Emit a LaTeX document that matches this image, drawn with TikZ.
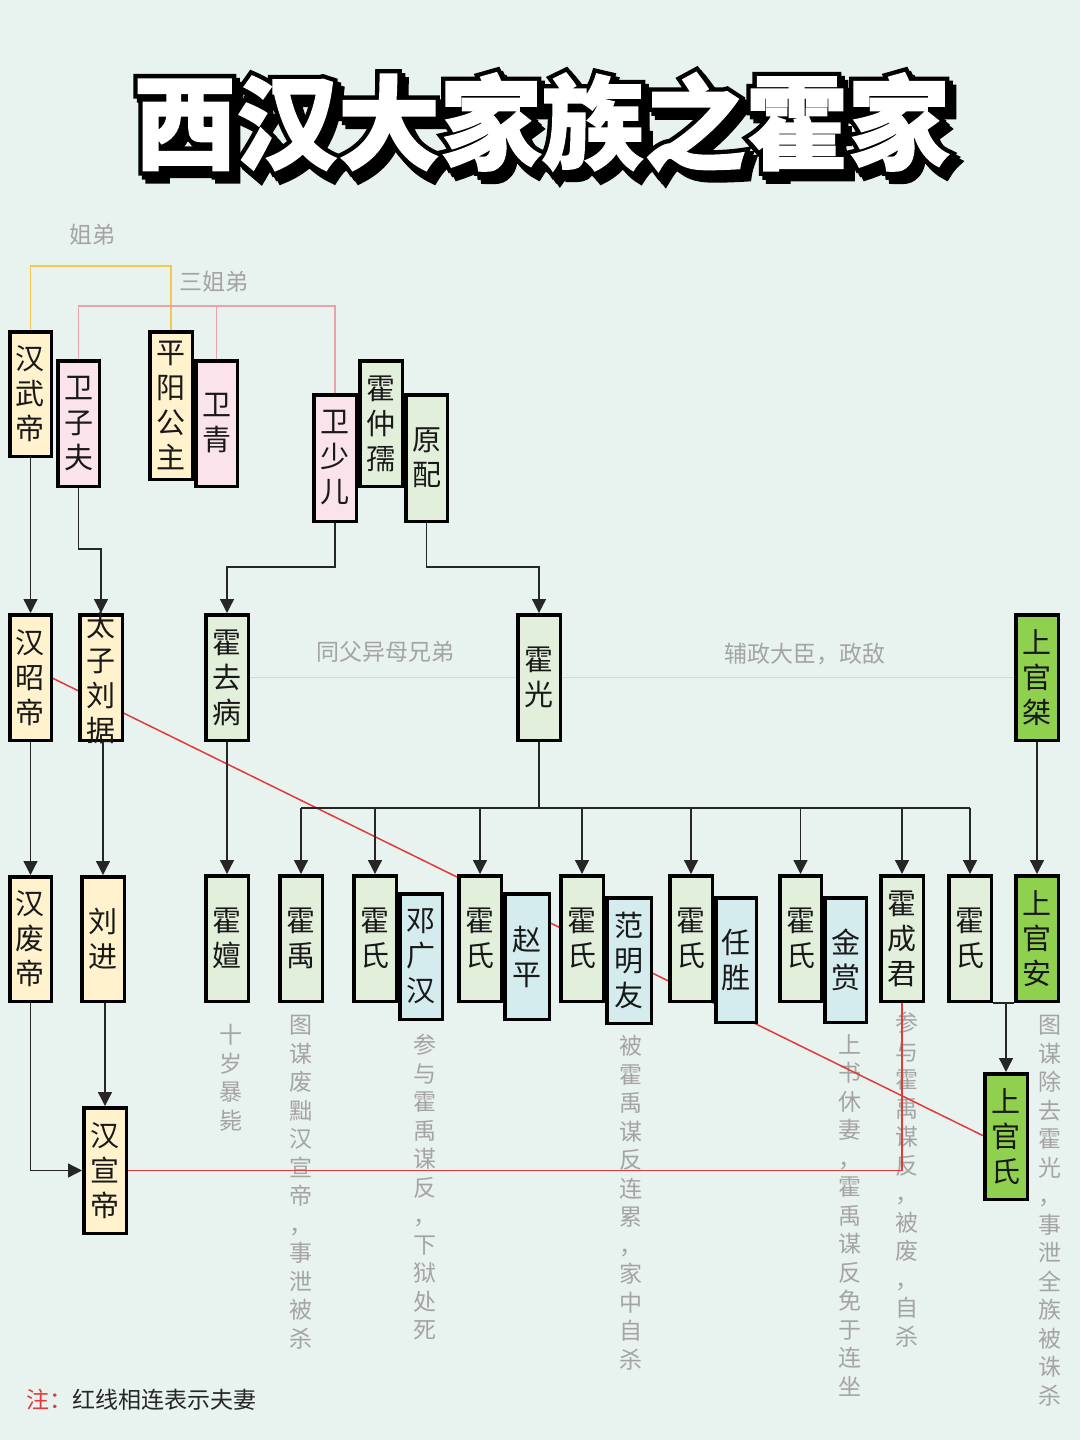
\documentclass[tikz,border=0pt]{standalone}
\usepackage{fontspec}
\setmainfont{Noto Sans CJK SC}
\newfontfamily\ttlout[BoldFeatures={FakeBold=10}]{Noto Sans CJK SC}
\newfontfamily\ttlin[BoldFeatures={FakeBold=1.5}]{Noto Sans CJK SC}
\usetikzlibrary{arrows.meta}
\definecolor{bgc}{HTML}{E8F2EE}
\definecolor{cyel}{HTML}{FFF2CC}
\definecolor{cpink}{HTML}{FBE3EB}
\definecolor{cgrn}{HTML}{E2EFDA}
\definecolor{cblue}{HTML}{D5ECEE}
\definecolor{cbright}{HTML}{8FD14F}
\definecolor{gtext}{HTML}{A4A4A4}
\definecolor{relc}{HTML}{D2D8D5}
\definecolor{yell}{HTML}{F2C94C}
\definecolor{pinkl}{HTML}{E6A3AB}
\definecolor{redl}{HTML}{E23A3A}
\tikzset{
  box/.style={draw=black, line width=3.5pt, inner sep=0pt, rectangle},
  btxt/.style={font=\fontsize{29}{35}\selectfont, align=center, inner sep=0pt, text=black!90},
  note/.style={font=\fontsize{23}{28.5}\selectfont, text=gtext, align=center, inner sep=0pt, anchor=north},
  lbl/.style={font=\fontsize{23}{28}\selectfont, text=gtext, inner sep=0pt},
  conn/.style={draw=black!85, line width=1.3pt},
  arr/.style={conn, -{Triangle[width=14pt,length=14pt]}},
  relline/.style={draw=relc, line width=1.5pt},
  yline/.style={draw=yell, line width=1.5pt},
  pline/.style={draw=pinkl, line width=1.5pt},
  rline/.style={draw=redl, line width=1.5pt},
  ttlo/.style={font=\ttlout\bfseries\fontsize{102}{102}\selectfont, inner sep=0pt, text=black},
  ttli/.style={font=\ttlin\bfseries\fontsize{102}{102}\selectfont, inner sep=0pt, text=white},
}
% name, x1, y1, x2, y2, fill, text
\newcommand\pb[7]{%
  \node[box, fill=#6, minimum width={#4-#2-3.5}, minimum height={#5-#3-3.5}] (#1) at ({(#2+#4)/2},{(#3+#5)/2}) {};
  \node[btxt] (#1t) at (#1.center) {#7};}
\begin{document}
\begin{tikzpicture}[x=1pt,y=-1pt]
\useasboundingbox (0,0) rectangle (1080,1440);
\fill[bgc] (0,0) rectangle (1080,1440);

% title
\node[ttlo, xshift=7pt, yshift=-8pt] (tsh2) at (542,122) {西汉大家族之霍家};
\node[ttlo, xshift=3.5pt, yshift=-4pt] (tsh1) at (542,122) {西汉大家族之霍家};
\node[ttlo] (tout) at (542,122) {西汉大家族之霍家};
\node[ttli] (title) at (542,122) {西汉大家族之霍家};

% annotations
\node[note] (n1) at (231,1024) {十\\岁\\暴\\毙};
\node[note] (n2) at (301,1015) {图\\谋\\废\\黜\\汉\\宣\\帝\\，\\事\\泄\\被\\杀};
\node[note] (n3) at (425,1034) {参\\与\\霍\\禹\\谋\\反\\，\\下\\狱\\处\\死};
\node[note] (n4) at (631,1035) {被\\霍\\禹\\谋\\反\\连\\累\\，\\家\\中\\自\\杀};
\node[note] (n5) at (850,1034) {上\\书\\休\\妻\\，\\霍\\禹\\谋\\反\\免\\于\\连\\坐};
\node[note] (n6) at (907,1012) {参\\与\\霍\\禹\\谋\\反\\，\\被\\废\\，\\自\\杀};
\node[note] (n7) at (1050,1015) {图\\谋\\除\\去\\霍\\光\\，\\事\\泄\\全\\族\\被\\诛\\杀};

% relation labels
\node[lbl] (l1) at (92,235) {姐弟};
\node[lbl] (l2) at (214,282) {三姐弟};
\node[lbl] (l3) at (385,652) {同父异母兄弟};
\node[lbl] (l4) at (805,654) {辅政大臣，政敌};

% end points on boxes drawn later
\coordinate (zhaodiE) at (51.25,677.5);
\coordinate (guanshiW) at (984.75,1136.5);
\coordinate (xuandiE) at (126.25,1170.5);
\coordinate (chjS) at (902,1001.25);

% red lines (behind boxes)
\draw[rline] (zhaodiE) -- (guanshiW);
\draw[rline] (xuandiE) -| (chjS);

% boxes row 1
\pb{wudi}{8}{330}{53}{458}{cyel}{汉\\武\\帝}
\pb{zifu}{56}{359}{101}{488}{cpink}{卫\\子\\夫}
\pb{pingyang}{148}{330}{194}{481}{cyel}{平\\阳\\公\\主}
\pb{weiqing}{194}{359}{239}{488}{cpink}{卫\\青}
\pb{zhongru}{358}{359}{404}{488}{cgrn}{霍\\仲\\孺}
\pb{shaoer}{312}{393}{358}{523}{cpink}{卫\\少\\儿}
\pb{yuanpei}{404}{393}{449}{523}{cgrn}{原\\配}
% row 2
\pb{zhaodi}{8}{613}{53}{742}{cyel}{汉\\昭\\帝}
\pb{liuju}{78}{613}{124}{742}{cyel}{太\\子\\刘\\据}
\pb{qubing}{204}{613}{250}{742}{cgrn}{霍\\去\\病}
\pb{guang}{516}{613}{562}{742}{cgrn}{霍\\光}
\pb{jie}{1014}{613}{1060}{742}{cbright}{上\\官\\桀}
% row 3
\pb{feidi}{8}{875}{53}{1003}{cyel}{汉\\废\\帝}
\pb{liujin}{80}{875}{126}{1003}{cyel}{刘\\进}
\pb{shan}{204}{874}{250}{1003}{cgrn}{霍\\嬗}
\pb{yu}{278}{874}{324}{1003}{cgrn}{霍\\禹}
\pb{dgh}{398}{892}{444}{1021}{cblue}{邓\\广\\汉}
\pb{hsa}{352}{874}{398}{1003}{cgrn}{霍\\氏}
\pb{zp}{503}{892}{551}{1021}{cblue}{赵\\平}
\pb{hsb}{457}{874}{503}{1003}{cgrn}{霍\\氏}
\pb{fmy}{605}{896}{653}{1025}{cblue}{范\\明\\友}
\pb{hsc}{559}{874}{605}{1003}{cgrn}{霍\\氏}
\pb{rs}{714}{896}{758}{1024}{cblue}{任\\胜}
\pb{hsd}{668}{874}{714}{1003}{cgrn}{霍\\氏}
\pb{js}{823}{896}{868}{1024}{cblue}{金\\赏}
\pb{hse}{778}{874}{823}{1003}{cgrn}{霍\\氏}
\pb{chj}{879}{874}{925}{1003}{cgrn}{霍\\成\\君}
\pb{hsf}{947}{874}{993}{1003}{cgrn}{霍\\氏}
\pb{an}{1014}{874}{1060}{1003}{cbright}{上\\官\\安}
% row 4
\pb{xuandi}{82}{1106}{128}{1235}{cyel}{汉\\宣\\帝}
\pb{guanshi}{983}{1072}{1029}{1201}{cbright}{上\\官\\氏}

% sibling lines
\draw[yline] (wudi.north) -- (wudi.north |- 0,266) -| (pingyang.north);
\draw[pline] (zifu.north) -- (zifu.north |- 0,306) -| (shaoer.north);
\draw[pline] (weiqing.north) -- (weiqing.north |- 0,305);

% relation lines
\draw[relline] (qubing.east) -- (guang.west);
\draw[relline] (guang.east) -- (jie.west);

% descent
\draw[arr] (wudi.south) -- (zhaodi.north);
\draw[arr] (zifu.south) -- (zifu.south |- 0,549) -| (liuju.north);
\draw[arr] (shaoer.south) -- (shaoer.south |- 0,567) -| (qubing.north);
\draw[arr] (yuanpei.south) -- (yuanpei.south |- 0,567) -| (guang.north);
\draw[arr] (zhaodi.south) -- (feidi.north);
\draw[arr] (liujin.north |- liuju.south) -- (liujin.north);
\draw[arr] (qubing.south) -- (shan.north);
\draw[arr] (jie.south) -- (an.north);
\draw[arr] (xuandi.north |- liujin.south) -- (xuandi.north);
\draw[arr] (feidi.south) |- (xuandi.west);
\coordinate (bus) at (539,808);
\draw[conn] (guang.south) -- (bus);
\draw[conn] (bus -| yu.north) -- (bus -| hsf.north);
\foreach \n in {yu,hsa,hsb,hsc,hsd,hse,chj,hsf} {
  \draw[arr] (bus -| \n.north) -- (\n.north);
}
\draw[conn] (hsf.south east) -- (an.south west);
\draw[arr] (guanshi.north |- hsf.south) -- (guanshi.north);

% footnote
\node[anchor=west, inner sep=0pt, font=\fontsize{23}{28}\selectfont] (foot) at (26,1400) {\textcolor{redl}{注：}\textcolor{black!85}{红线相连表示夫妻}};
\end{tikzpicture}
\end{document}
